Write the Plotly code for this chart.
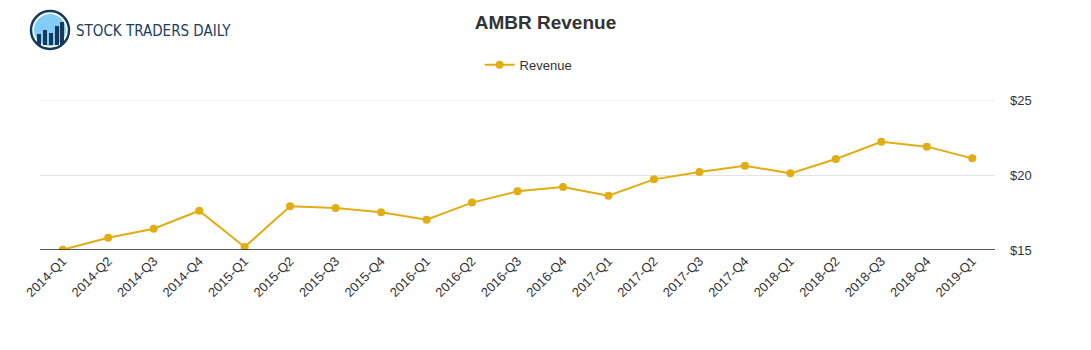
import plotly.graph_objects as go

quarters = ["2014-Q1", "2014-Q2", "2014-Q3", "2014-Q4",
            "2015-Q1", "2015-Q2", "2015-Q3", "2015-Q4",
            "2016-Q1", "2016-Q2", "2016-Q3", "2016-Q4",
            "2017-Q1", "2017-Q2", "2017-Q3", "2017-Q4",
            "2018-Q1", "2018-Q2", "2018-Q3", "2018-Q4",
            "2019-Q1"]
revenue = [15.02, 15.82, 16.42, 17.62,
           15.20, 17.91, 17.80, 17.51,
           17.02, 18.16, 18.91, 19.20,
           18.62, 19.71, 20.20, 20.62,
           20.11, 21.07, 22.22, 21.89,
           21.11]
y_ticks = [15, 20, 25]
y_tick_labels = ["$15", "$20", "$25"]

color = "#E2AC13"
navy = "#15395a"

fig = go.Figure()
fig.add_trace(go.Scatter(
    x=quarters, y=revenue, name="Revenue", mode="lines+markers",
    line=dict(color=color, width=2),
    marker=dict(color=color, size=8),
))

fig.update_layout(
    width=1091, height=350,
    margin=dict(l=40, r=96, t=100, b=100),
    paper_bgcolor="white", plot_bgcolor="white",
    font=dict(family="Liberation Sans, Arial, sans-serif", color="#333333", size=12),
    title=dict(text="<b>AMBR Revenue</b>", x=0.5, xanchor="center", y=0.935, yanchor="middle",
               font=dict(size=19, color="#333333")),
    showlegend=True,
    legend=dict(orientation="h", x=0.5116, xanchor="center", y=1.235, yanchor="middle",
                itemwidth=30,
                font=dict(size=13, color="#333333"), bgcolor="rgba(0,0,0,0)"),
    xaxis=dict(type="category", range=[-0.5, len(quarters) - 0.5], tickangle=-45,
               showgrid=False, showline=False, ticks="", tickfont=dict(size=13, color="#333333")),
    yaxis=dict(side="right", range=[15, 25], tickvals=y_ticks, ticktext=y_tick_labels,
               showgrid=True, gridcolor="#e3e3e3", gridwidth=1, zeroline=False,
               showline=False, ticks="", ticklabelstandoff=14,
               tickfont=dict(size=13, color="#333333")),
)

# top gridline at $25 (plotly hides grid lines at the plot edge)
fig.add_shape(type="line", xref="paper", yref="y", x0=0, x1=1, y0=25, y1=25,
              line=dict(color="#e3e3e3", width=1), layer="below")
# baseline at $15
fig.add_shape(type="line", xref="paper", yref="y", x0=0, x1=1, y0=15, y1=15,
              line=dict(color="#222222", width=1.3))

# logo (absolute page pixels converted to offsets from plot top-left at (40, 100))
def px_shape(kind, x0, y0, x1, y1, **kw):
    fig.add_shape(type=kind, xref="paper", yref="paper", xsizemode="pixel", ysizemode="pixel",
                  xanchor=0, yanchor=1,
                  x0=x0 - 40, x1=x1 - 40, y0=100 - y1, y1=100 - y0, **kw)

px_shape("circle", 31, 11, 69, 49, line=dict(color=navy, width=2.5), fillcolor="white")
px_shape("circle", 34, 14, 66, 46, line=dict(width=0), fillcolor="#82cdf5")
for bx, top in [(37, 34), (43, 30), (49, 33), (55, 26), (60, 22)]:
    px_shape("rect", bx, top, bx + 4, 45, line=dict(width=0), fillcolor=navy)
fig.add_annotation(xref="paper", yref="paper", x=0, y=1, xanchor="left", yanchor="middle",
                   xshift=34, yshift=69, showarrow=False,
                   text="STOCK TRADERS DAILY",
                   font=dict(family="DejaVu Sans Condensed, Liberation Sans Narrow, sans-serif",
                             size=15, color="#1b3d5c"))

fig.write_html("out.html")
